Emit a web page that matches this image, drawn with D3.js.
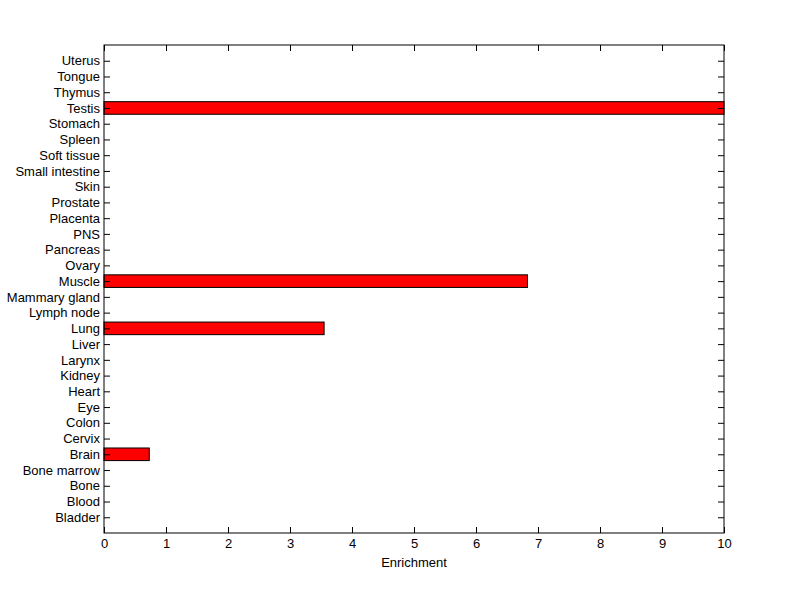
<!DOCTYPE html>
<html>
<head>
<meta charset="utf-8">
<script src="https://cdn.jsdelivr.net/npm/d3@7"></script>
<style>
body { margin: 0; background: #fff; }
text { font-family: "Liberation Sans", Arial, sans-serif; font-size: 13px; fill: #000; }
</style>
</head>
<body>
<script>
var tissues = ["Bladder", "Blood", "Bone", "Bone marrow", "Brain", "Cervix", "Colon", "Eye",
    "Heart", "Kidney", "Larynx", "Liver", "Lung", "Lymph node", "Mammary gland", "Muscle",
    "Ovary", "Pancreas", "PNS", "Placenta", "Prostate", "Skin", "Small intestine",
    "Soft tissue", "Spleen", "Stomach", "Testis", "Thymus", "Tongue", "Uterus"];
var enrichment = [0, 0, 0, 0, 0.73, 0, 0, 0,
    0, 0, 0, 0, 3.55, 0, 0, 6.83,
    0, 0, 0, 0, 0, 0, 0,
    0, 0, 0, 10, 0, 0, 0];
var xTicks = [0, 1, 2, 3, 4, 5, 6, 7, 8, 9, 10];

var width = 800,
    height = 599;
var plotL = 104, plotR = 724, plotT = 45, plotB = 533;

var svg = d3.select("body").append("svg")
    .attr("width", width)
    .attr("height", height);

var x = d3.scaleLinear()
    .domain([0, 10])
    .range([plotL, plotR]);

// positions 1..30, limits 0..31 like matlab barh
var y = d3.scaleLinear()
    .domain([0, tissues.length + 1])
    .range([plotB, plotT]);
var step = y(0) - y(1);
var barH = step * 0.8;

var data = tissues.map(function(t, i){ return {name: t, pos: i + 1, value: enrichment[i]}; });

svg.selectAll("rect.bar")
    .data(data.filter(function(d){ return d.value > 0; }))
    .enter()
    .append("rect")
    .attr("class", "bar")
    .attr("x", x(0))
    .attr("y", function(d){ return y(d.pos) - barH / 2; })
    .attr("width", function(d){ return x(d.value) - x(0); })
    .attr("height", barH)
    .attr("fill", "#ff0000")
    .attr("stroke", "#000")
    .attr("stroke-width", 1);

// axes, ticks pointing inward
var xAxis = d3.axisBottom(x).tickValues(xTicks).tickSizeInner(-6).tickSizeOuter(0).tickPadding(6);
var xTop = d3.axisTop(x).tickValues(xTicks).tickSizeInner(-6).tickSizeOuter(0).tickFormat("");
var yAxis = d3.axisLeft(y).tickValues(data.map(function(d){ return d.pos; }))
    .tickFormat(function(p){ return tissues[p - 1]; })
    .tickSizeInner(-6).tickSizeOuter(0).tickPadding(4);
var yRight = d3.axisRight(y).tickValues(data.map(function(d){ return d.pos; }))
    .tickSizeInner(-6).tickSizeOuter(0).tickFormat("");

svg.append("g").attr("transform", "translate(0," + plotB + ")").call(xAxis);
svg.append("g").attr("transform", "translate(0," + plotT + ")").call(xTop);
svg.append("g").attr("transform", "translate(" + plotL + ",0)").call(yAxis);
svg.append("g").attr("transform", "translate(" + plotR + ",0)").call(yRight);

svg.selectAll(".domain").remove();
svg.selectAll(".tick line").attr("stroke", "#000");
svg.selectAll(".tick text").style("font-family", "'Liberation Sans', Arial, sans-serif").style("font-size", "13px").attr("fill", "#000");

svg.append("rect")
    .attr("x", plotL)
    .attr("y", plotT)
    .attr("width", plotR - plotL)
    .attr("height", plotB - plotT)
    .attr("fill", "none")
    .attr("stroke", "#000")
    .attr("stroke-width", 1);

svg.append("text")
    .attr("x", (plotL + plotR) / 2)
    .attr("y", 567)
    .attr("text-anchor", "middle")
    .text("Enrichment");
</script>
</body>
</html>
